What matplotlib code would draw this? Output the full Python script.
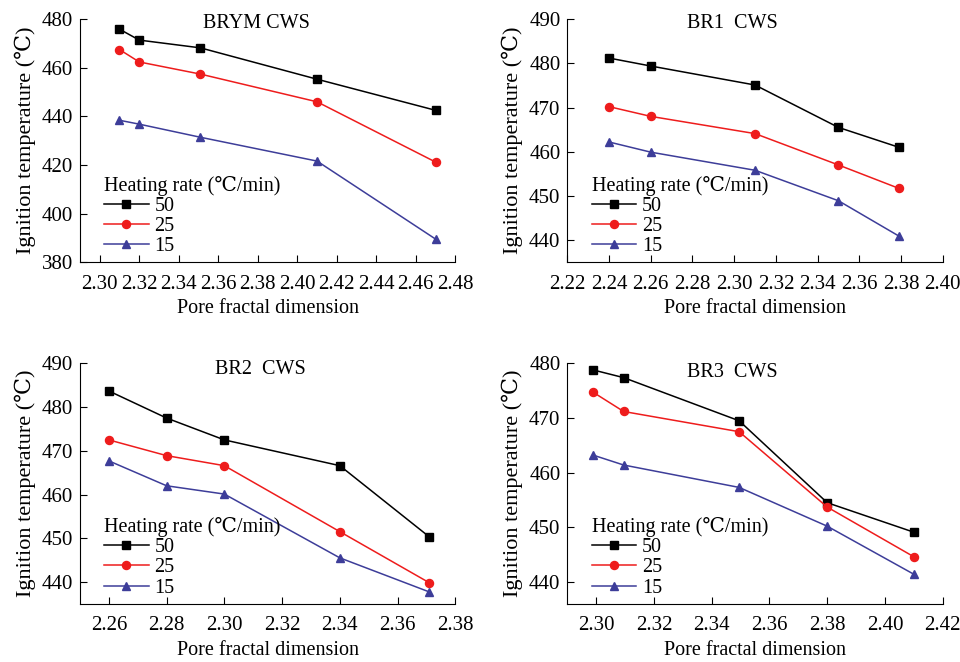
import numpy as np
import matplotlib.pyplot as plt

plt.rcParams['font.family'] = ['Liberation Serif', 'DejaVu Serif']

rates = ['50', '25', '15']
colors = ['black', '#ee1c1c', '#3d3d99']
markers = ['s', 'o', '^']

# BRYM CWS
brym_x = [2.310, 2.320, 2.351, 2.410, 2.470]
brym_50 = [475.9, 471.4, 468.2, 455.3, 442.5]
brym_25 = [467.5, 462.4, 457.4, 446.0, 421.2]
brym_15 = [438.4, 436.8, 431.4, 421.6, 389.5]

# BR1 CWS
br1_x = [2.240, 2.260, 2.310, 2.350, 2.379]
br1_50 = [481.2, 479.4, 475.1, 465.5, 461.0]
br1_25 = [470.2, 468.0, 464.1, 457.0, 451.7]
br1_15 = [462.2, 459.9, 455.8, 448.9, 440.9]

# BR2 CWS
br2_x = [2.260, 2.280, 2.300, 2.340, 2.371]
br2_50 = [483.7, 477.5, 472.5, 466.6, 450.3]
br2_25 = [472.5, 468.9, 466.6, 451.5, 439.8]
br2_15 = [467.7, 462.0, 460.1, 445.5, 437.7]

# BR3 CWS
br3_x = [2.299, 2.3095, 2.3495, 2.380, 2.410]
br3_50 = [478.8, 477.4, 469.5, 454.5, 449.1]
br3_25 = [474.7, 471.2, 467.5, 453.7, 444.6]
br3_15 = [463.2, 461.4, 457.3, 450.2, 441.4]

panels = [
    ('BRYM CWS', brym_x, [brym_50, brym_25, brym_15], (2.29, 2.48), np.arange(2.30, 2.481, 0.02), (380, 480), np.arange(380, 481, 20)),
    ('BR1  CWS', br1_x, [br1_50, br1_25, br1_15], (2.22, 2.40), np.arange(2.22, 2.401, 0.02), (435, 490), np.arange(440, 491, 10)),
    ('BR2  CWS', br2_x, [br2_50, br2_25, br2_15], (2.25, 2.38), np.arange(2.26, 2.381, 0.02), (435, 490), np.arange(440, 491, 10)),
    ('BR3  CWS', br3_x, [br3_50, br3_25, br3_15], (2.29, 2.42), np.arange(2.30, 2.421, 0.02), (436, 480), np.arange(440, 481, 10)),
]

positions = [
    [0.0833, 0.604, 0.391, 0.367],
    [0.591, 0.604, 0.391, 0.367],
    [0.0833, 0.088, 0.391, 0.363],
    [0.591, 0.088, 0.391, 0.363],
]
title_pos = [(0.47, 0.984), (0.44, 0.984), (0.48, 0.975), (0.44, 0.963)]

fs = 14.5
tfs = 15
fig = plt.figure(figsize=(9.6, 6.62), dpi=100)
for (title, x, ys, xl, xt, yl, yt), pos, tp in zip(panels, positions, title_pos):
    ax = fig.add_axes(pos)
    for y, lab, c, m in zip(ys, rates, colors, markers):
        ax.plot(x, y, color=c, marker=m, markersize=5.8, linewidth=1.1, label=lab)
    ax.set_xlim(xl)
    ax.set_ylim(yl)
    ax.set_xticks(xt)
    ax.set_xticklabels(['%.2f' % v for v in xt])
    ax.set_yticks(yt)
    ax.spines['top'].set_visible(False)
    ax.spines['right'].set_visible(False)
    ax.tick_params(direction='in', labelsize=tfs, length=5)
    ax.tick_params(axis='x', pad=9)
    ax.tick_params(axis='y', pad=5)
    ax.set_xlabel('Pore fractal dimension', fontsize=fs, labelpad=4)
    ax.set_ylabel('Ignition temperature (℃)', fontsize=16, labelpad=4)
    ax.text(tp[0], tp[1], title, transform=ax.transAxes, ha='center', va='center', fontsize=fs)
    ax.legend(title='Heating rate (℃/min)', loc='lower left', bbox_to_anchor=(0.027, -0.033),
              frameon=False, fontsize=fs, title_fontsize=fs, handlelength=2.2,
              handletextpad=0.3, labelspacing=0.05, borderaxespad=0.3, alignment='left')

fig.savefig('out.png', dpi=100)
